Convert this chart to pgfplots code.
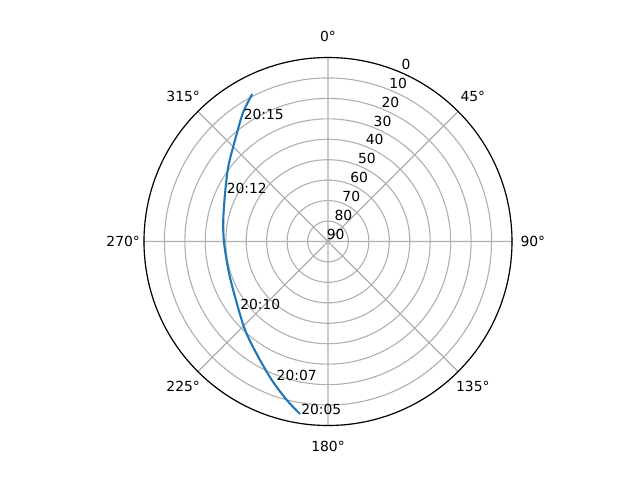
\documentclass[border=0pt]{standalone}
\usepackage{fontspec}
\setmainfont{DejaVu Sans}
\usepackage{pgfplots}
\usepgfplotslibrary{polar}
\pgfplotsset{compat=1.18}
\usepackage{pgfplotstable}
\definecolor{mplblue}{HTML}{1F77B4}
\definecolor{mplgrid}{HTML}{B0B0B0}

% azimuth (deg, clockwise from north) and elevation (deg)
\pgfplotstableread{
az el
189.2 4.5
194.6 9.9
202.1 16.9
211.2 24.1
223.2 30.7
239.3 37.1
254.0 39.3
270.0 39.1
281.6 37.7
295.1 34.4
306.9 29.0
317.5 22.7
326.4 14.7
332.8 8.9
}\passtable

\pgfplotstableread{
az el lbl
189.2 4.5 20:05
200.7 17.3 20:07
232.7 35.3 20:10
295.2 34.6 20:12
325.0 17.1 20:15
}\timelabels

% radial labels sit along azimuth 22.5
\pgfplotstableread{
az el
22.5 0
22.5 10
22.5 20
22.5 30
22.5 40
22.5 50
22.5 60
22.5 70
22.5 80
22.5 90
}\rlabels

\begin{document}
\begin{tikzpicture}
\useasboundingbox (-236.16pt,-171.72pt) rectangle (224.64pt,173.88pt);
\begin{polaraxis}[
  at={(0,0)}, anchor=center,
  scale only axis, width=264.96pt, height=264.96pt,
  xmin=0, xmax=360, ymin=0, ymax=90,
  xtick={0,45,...,315},
  xticklabels={90°,45°,0°,315°,270°,225°,180°,135°},
  xticklabel style={anchor=center, inner sep=0pt,
    xshift={15pt*cos(\tick)}, yshift={15pt*sin(\tick)}},
  ytick={0,10,...,90}, yticklabels={},
  grid=major,
  major grid style={mplgrid, line width=0.8pt},
  axis line style={black, line width=0.8pt},
  y axis line style={draw=none},
  major tick length=0pt,
  clip=false,
  font=\fontsize{10}{12}\selectfont,
]
\addplot[mplblue, line width=1.5pt, smooth, tension=0.5]
  table[x expr=450-\thisrow{az}, y expr=90-\thisrow{el}] {\passtable};
\addplot[draw=none, nodes near coords, point meta=explicit symbolic,
  nodes near coords style={anchor=base west, inner sep=0pt, xshift=0.7pt}]
  table[x expr=450-\thisrow{az}, y expr=90-\thisrow{el}, meta=lbl] {\timelabels};
\addplot[draw=none, nodes near coords, point meta=explicit symbolic,
  nodes near coords style={anchor=center, inner sep=0pt, xshift=5.5pt, yshift=5.2pt}]
  table[x expr=450-\thisrow{az}, y expr=90-\thisrow{el}, meta=el] {\rlabels};
\end{polaraxis}
\end{tikzpicture}
\end{document}
